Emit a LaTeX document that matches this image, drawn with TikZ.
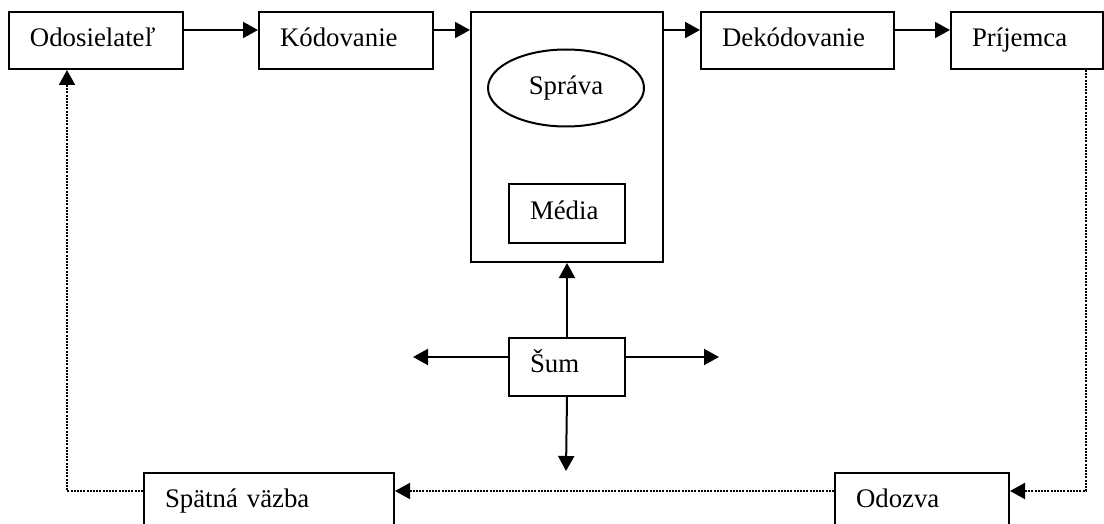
\documentclass[tikz,border=0pt]{standalone}
\usepackage{fontspec}
\setmainfont{Liberation Serif}
\usetikzlibrary{arrows.meta,shapes.geometric}

\begin{document}
\begin{tikzpicture}[x=0.5pt, y=-0.5pt,
	font=\fontsize{13.4}{15}\selectfont,
	blok/.style={draw, line width=1pt, anchor=north west, align=left,
		inner xsep=10.5pt, inner ysep=0pt, text height=0.8em, text depth=0.22em},
	sipka/.style={line width=1pt, -{Triangle[length=7.5pt,width=8pt]}},
	spoj/.style={sipka, dash pattern=on 1pt off 0.6pt}]

% frame %{{{2

	\useasboundingbox (0,0) rectangle (1104,524);

% top row %{{{2

	\node[blok, text width=66pt, minimum height=28.5pt] (odos) at (8,11) {Odosielateľ};
	\node[blok, text width=66pt, minimum height=28.5pt] (kod) at (258,11) {Kódovanie};
	\node[draw, line width=1pt, anchor=north west, inner sep=0pt,
		minimum width=96pt, minimum height=125pt] (kanal) at (470,11) {};
	\node[blok, text width=75.5pt, minimum height=28.5pt] (dekod) at (700,11) {Dekódovanie};
	\node[blok, text width=55pt, minimum height=28.5pt] (prij) at (950,11) {Príjemca};

% inside the channel %{{{2

	\node[draw, ellipse, line width=1pt, inner sep=0pt,
		minimum width=78pt, minimum height=38.5pt] (sprava) at (566,88) {Správa};
	\node[blok, text width=37pt, minimum height=29.5pt] (media) at (508,183) {Média};

% noise %{{{2

	\node[blok, text width=37pt, minimum height=29pt] (sum) at (508,337) {Šum};
	\coordinate (sumL) at (413,357);
	\coordinate (sumR) at (719,357);
	\coordinate (sumD) at (566,471);

% bottom row %{{{2

	\node[blok, text width=104pt, minimum height=28.5pt] (spatna) at (143,472) {Spätná väzba};
	\node[blok, text width=66pt, minimum height=28.5pt] (odozva) at (834,472) {Odozva};

% arrows %{{{2

	\draw[sipka] ([yshift=-9.5pt]odos.north east) -- ([yshift=-9.5pt]kod.north west);
	\draw[sipka] ([yshift=-9.5pt]kod.north east) -- ([yshift=-9.5pt]kanal.north west);
	\draw[sipka] ([yshift=-9.5pt]kanal.north east) -- ([yshift=-9.5pt]dekod.north west);
	\draw[sipka] ([yshift=-9.5pt]dekod.north east) -- ([yshift=-9.5pt]prij.north west);

	\draw[sipka] (sum.north) -- (kanal.south);
	\draw[sipka] ([yshift=-10pt]sum.north west) -- (sumL);
	\draw[sipka] ([yshift=-10pt]sum.north east) -- (sumR);
	\draw[sipka] (sum.south) -- (sumD);

% feedback %{{{2

	\draw[spoj] ([xshift=-9pt]prij.south east) |- ([yshift=-9.5pt]odozva.north east);
	\draw[spoj] ([yshift=-9.5pt]odozva.north west) -- ([yshift=-9.5pt]spatna.north east);
	\draw[spoj] ([yshift=-9.5pt]spatna.north west) -| ([xshift=29.5pt]odos.south west);

\end{tikzpicture}
\end{document}
